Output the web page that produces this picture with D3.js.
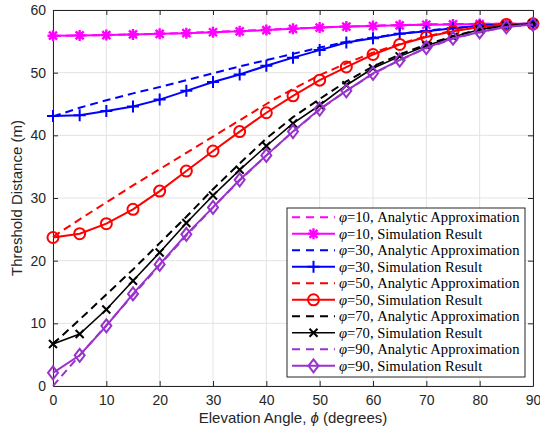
<!DOCTYPE html>
<html><head><meta charset="utf-8">
<script src="https://cdn.jsdelivr.net/npm/d3@7"></script>
<style>
body{margin:0;background:#fff;}
svg{display:block;}
</style></head>
<body>
<svg id="chart" width="540" height="434"></svg>
<script>
const angles = [0,5,10,15,20,25,30,35,40,45,50,55,60,65,70,75,80,85,90];
const xTicks = [0,10,20,30,40,50,60,70,80,90];
const yTicks = [0,10,20,30,40,50,60];

const phi10Analytic = [55.85,55.95,56.0,56.1,56.2,56.35,56.5,56.65,56.85,57.05,57.2,57.35,57.5,57.6,57.7,57.75,57.8,57.8,57.8];
const phi10Sim      = [55.9,55.95,56.0,56.1,56.2,56.3,56.45,56.6,56.8,57.0,57.2,57.35,57.45,57.55,57.65,57.7,57.75,57.8,57.8];
const phi30Analytic = [43.0,44.4,45.6,46.7,47.7,48.8,49.9,51.0,52.0,53.0,54.0,54.9,55.6,56.2,56.7,57.1,57.5,57.7,57.8];
const phi30Sim      = [43.1,43.2,43.9,44.6,45.7,47.1,48.5,49.7,51.1,52.4,53.6,54.8,55.5,56.2,56.6,57.1,57.5,57.7,57.8];
const phi50Analytic = [23.8,26.6,29.3,32.0,34.6,37.2,39.8,42.4,45.0,47.4,49.6,51.5,53.2,54.6,55.8,56.7,57.3,57.7,57.8];
const phi50Sim      = [23.7,24.3,25.9,28.2,31.1,34.3,37.5,40.6,43.6,46.3,48.8,50.9,52.9,54.5,55.7,56.6,57.3,57.7,57.8];
const phi70Analytic = [6.7,10.6,14.6,18.6,22.8,27.0,31.4,35.5,39.5,42.9,45.8,48.6,51.0,52.9,54.5,55.8,56.9,57.5,57.8];
const phi70Sim      = [6.7,8.3,12.2,16.8,21.3,26.0,30.4,34.5,38.3,41.9,44.8,48.0,50.7,52.6,54.3,55.7,56.9,57.5,57.8];
const phi90Analytic = [0.0,4.9,9.7,14.5,19.3,24.0,28.5,32.8,36.8,40.6,44.1,47.1,49.8,52.0,53.9,55.4,56.5,57.3,57.7];
const phi90Sim      = [2.1,4.9,9.6,14.7,19.4,24.2,28.5,32.9,36.8,40.6,44.2,47.1,49.9,52.0,54.0,55.5,56.5,57.3,57.7];

const seriesNames = ["φ=10","φ=30","φ=50","φ=70","φ=90"];
const seriesColors = ["#ff00ff","#0000ff","#ff0000","#000000","#9933cc"];
const seriesMarkers = ["asterisk","plus","circle","cross","diamond"];
const analyticData = [phi10Analytic,phi30Analytic,phi50Analytic,phi70Analytic,phi90Analytic];
const simData = [phi10Sim,phi30Sim,phi50Sim,phi70Sim,phi90Sim];

const svg = d3.select("#chart");
const L = 53, R = 533, T = 10, B = 386;
const x = d3.scaleLinear().domain([0,90]).range([L,R]);
const y = d3.scaleLinear().domain([0,60]).range([B,T]);
const axisColor = "#262626";

// grid
const g = svg.append("g");
g.selectAll(".gx").data(xTicks).enter().append("line")
  .attr("x1",d=>x(d)).attr("x2",d=>x(d)).attr("y1",T).attr("y2",B)
  .attr("stroke","#e3e3e3").attr("stroke-width",1);
g.selectAll(".gy").data(yTicks).enter().append("line")
  .attr("y1",d=>y(d)).attr("y2",d=>y(d)).attr("x1",L).attr("x2",R)
  .attr("stroke","#e3e3e3").attr("stroke-width",1);

// axes
const tickLen = 5;
const xAxis = d3.axisBottom(x).tickValues(xTicks).tickSizeInner(-tickLen).tickSizeOuter(0).tickPadding(9);
const yAxis = d3.axisLeft(y).tickValues(yTicks).tickSizeInner(-tickLen).tickSizeOuter(0).tickPadding(7);
const xTop = d3.axisTop(x).tickValues(xTicks).tickSizeInner(-tickLen).tickSizeOuter(0).tickFormat("");
const yRight = d3.axisRight(y).tickValues(yTicks).tickSizeInner(-tickLen).tickSizeOuter(0).tickFormat("");

function styleAxis(sel){
  sel.selectAll("path").attr("stroke",axisColor).attr("stroke-width",1);
  sel.selectAll("line").attr("stroke",axisColor).attr("stroke-width",1);
  sel.selectAll("text").attr("fill",axisColor).style("font-family","'Liberation Sans', Arial, sans-serif").style("font-size","14px");
}
styleAxis(svg.append("g").attr("transform",`translate(0,${B})`).call(xAxis));
styleAxis(svg.append("g").attr("transform",`translate(${L},0)`).call(yAxis));
styleAxis(svg.append("g").attr("transform",`translate(0,${T})`).call(xTop));
styleAxis(svg.append("g").attr("transform",`translate(${R},0)`).call(yRight));

// labels
svg.append("text").attr("x",(L+R)/2).attr("y",423).attr("text-anchor","middle")
  .style("font-family","'Liberation Sans', Arial, sans-serif").style("font-size","15px").attr("fill",axisColor)
  .html('Elevation Angle, <tspan font-style="italic">ϕ</tspan> (degrees)');
svg.append("text").attr("transform",`translate(22,${(T+B)/2}) rotate(-90)`).attr("text-anchor","middle")
  .style("font-family","'Liberation Sans', Arial, sans-serif").style("font-size","15px").attr("fill",axisColor)
  .text("Threshold Distance (m)");

// markers
function drawMarker(sel, type, cx, cy, color){
  if(type==="circle"){
    sel.append("circle").attr("cx",cx).attr("cy",cy).attr("r",5.5).attr("fill","none").attr("stroke",color).attr("stroke-width",2);
  } else if(type==="diamond"){
    sel.append("path").attr("d",`M${cx},${cy-6.5}L${cx+5},${cy}L${cx},${cy+6.5}L${cx-5},${cy}Z`).attr("fill","none").attr("stroke",color).attr("stroke-width",2);
  } else if(type==="plus"){
    sel.append("path").attr("d",`M${cx-6},${cy}H${cx+6}M${cx},${cy-6}V${cy+6}`).attr("stroke",color).attr("stroke-width",2);
  } else if(type==="cross"){
    sel.append("path").attr("d",`M${cx-4},${cy-4}L${cx+4},${cy+4}M${cx-4},${cy+4}L${cx+4},${cy-4}`).attr("stroke",color).attr("stroke-width",2);
  } else if(type==="asterisk"){
    sel.append("path").attr("d",`M${cx-5.5},${cy}H${cx+5.5}M${cx},${cy-5.5}V${cy+5.5}M${cx-4},${cy-4}L${cx+4},${cy+4}M${cx-4},${cy+4}L${cx+4},${cy-4}`).attr("stroke",color).attr("stroke-width",2.4);
  }
}

const line = d3.line().x((d,i)=>x(angles[i])).y(d=>y(d));
const plot = svg.append("g");
for(let k=0;k<5;k++){
  plot.append("path").attr("d",line(analyticData[k])).attr("fill","none")
    .attr("stroke",seriesColors[k]).attr("stroke-width",2).attr("stroke-dasharray","8,5");
  plot.append("path").attr("d",line(simData[k])).attr("fill","none")
    .attr("stroke",seriesColors[k]).attr("stroke-width",k===3?1.6:2);
  const mg = plot.append("g");
  simData[k].forEach((v,i)=>drawMarker(mg, seriesMarkers[k], x(angles[i]), y(v), seriesColors[k]));
}

// legend
const lg = svg.append("g");
const lx0 = 287, ly0 = 208, lw = 238, lh = 169;
lg.append("rect").attr("x",lx0).attr("y",ly0).attr("width",lw).attr("height",lh)
  .attr("fill","#fff").attr("stroke",axisColor).attr("stroke-width",1);
for(let k=0;k<5;k++){
  for(let j=0;j<2;j++){
    const row = k*2+j;
    const yy = 217.3 + row*16.5;
    lg.append("line").attr("x1",292).attr("x2",335).attr("y1",yy).attr("y2",yy)
      .attr("stroke",seriesColors[k]).attr("stroke-width",j===1&&k===3?1.6:2)
      .attr("stroke-dasharray", j===0 ? "8,6" : null);
    if(j===1) drawMarker(lg, seriesMarkers[k], 313.5, yy, seriesColors[k]);
    const label = j===0 ? "Analytic Approximation" : "Simulation Result";
    const num = seriesNames[k].split("=")[1];
    lg.append("text").attr("x",339).attr("y",yy+4.8)
      .style("font-family","'Liberation Serif', 'DejaVu Serif', serif").style("font-size","14.6px").attr("fill","#000")
      .html(`<tspan font-style="italic">φ</tspan>=${num}, ${label}`);
  }
}
</script>
</body></html>
